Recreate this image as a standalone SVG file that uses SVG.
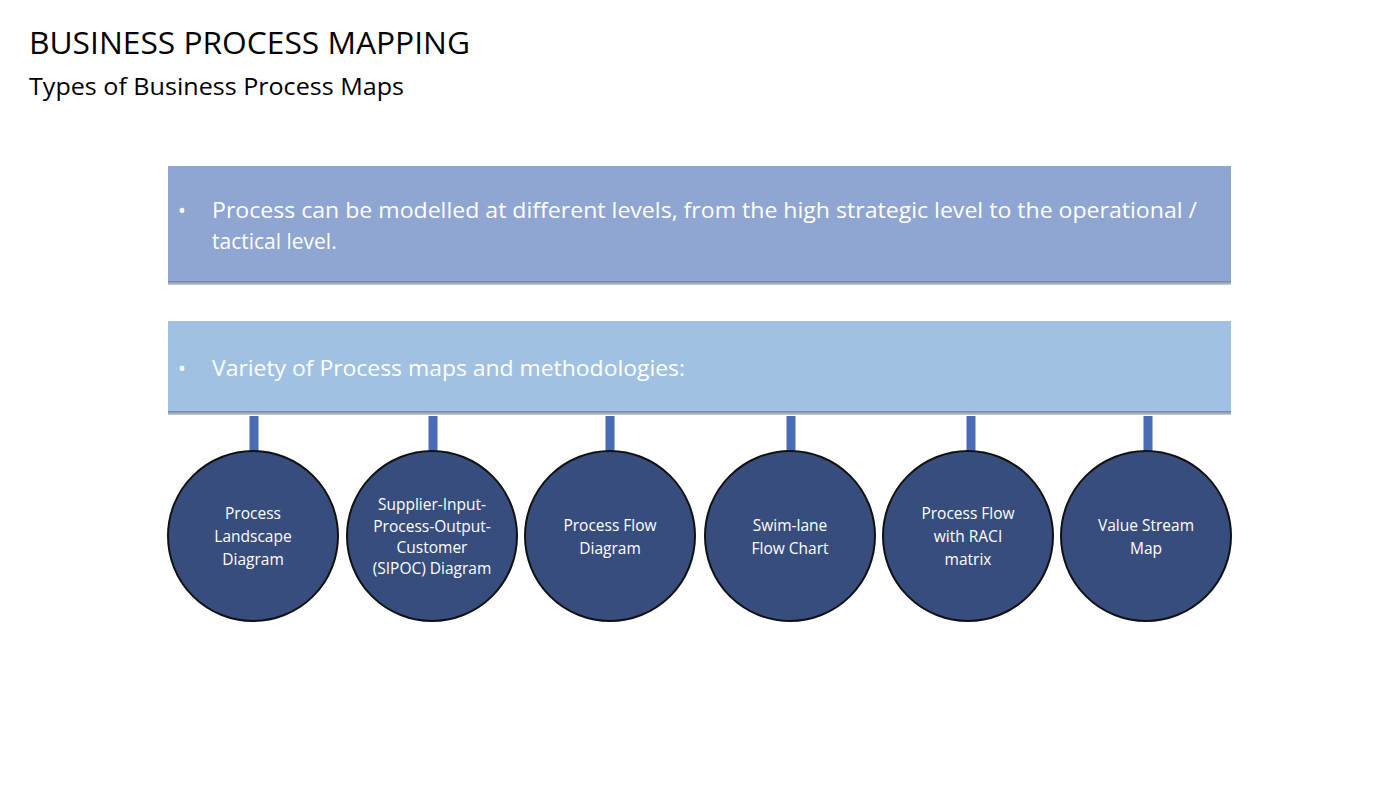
<svg xmlns="http://www.w3.org/2000/svg" width="1400" height="788" viewBox="0 0 1400 788">
<defs>
<linearGradient id="sh" x1="0" y1="0" x2="0" y2="1"><stop offset="0" stop-color="#5a6c90"/><stop offset="1" stop-color="#c8cfdc"/></linearGradient>
</defs>
<style>
text{font-family:"Open Sans","Noto Sans",sans-serif}
.c{fill:#374d7e;stroke:#111;stroke-width:2}
.ct{fill:#fff;font-size:15.5px;text-anchor:middle}
.bt{fill:#fff;font-size:21px}
.ln{stroke:#4a6bb5;stroke-width:9}
</style>
<rect width="1400" height="788" fill="#fff"/>
<text x="29" y="54" font-size="31" fill="#000" textLength="441" lengthAdjust="spacingAndGlyphs">BUSINESS PROCESS MAPPING</text>
<text x="29" y="95" font-size="23" fill="#000" textLength="375" lengthAdjust="spacingAndGlyphs">Types of Business Process Maps</text>
<g id="box1">
<rect x="168" y="280" width="1063" height="5" fill="url(#sh)"/>
<rect x="168" y="166" width="1063" height="115" fill="#8fa5d2"/>
<text class="bt" x="178" y="218">•</text>
<text class="bt" x="212" y="218" textLength="985" lengthAdjust="spacingAndGlyphs">Process can be modelled at different levels, from the high strategic level to the operational /</text>
<text class="bt" x="212" y="249">tactical level.</text>
</g>
<g id="box2">
<rect x="168" y="410" width="1063" height="5" fill="url(#sh)"/>
<rect x="168" y="321" width="1063" height="90" fill="#a1c1e2"/>
<text class="bt" x="178" y="376">•</text>
<text class="bt" x="212" y="376" textLength="473" lengthAdjust="spacingAndGlyphs">Variety of Process maps and methodologies:</text>
</g>
<g id="connectors">
<line class="ln" x1="254" y1="416" x2="254" y2="451"/>
<line class="ln" x1="433" y1="416" x2="433" y2="451"/>
<line class="ln" x1="610" y1="416" x2="610" y2="451"/>
<line class="ln" x1="791" y1="416" x2="791" y2="451"/>
<line class="ln" x1="971" y1="416" x2="971" y2="451"/>
<line class="ln" x1="1148" y1="416" x2="1148" y2="451"/>
</g>
<g id="n1"><circle class="c" cx="253" cy="536" r="85"/><text class="ct" x="253" y="519">Process</text><text class="ct" x="253" y="542">Landscape</text><text class="ct" x="253" y="565">Diagram</text></g>
<g id="n2"><circle class="c" cx="432" cy="536" r="85"/><text class="ct" x="432" y="510" font-size="14.5">Supplier-Input-</text><text class="ct" x="432" y="532" font-size="14.5">Process-Output-</text><text class="ct" x="432" y="553" font-size="14.5">Customer</text><text class="ct" x="432" y="574" font-size="14.5">(SIPOC) Diagram</text></g>
<g id="n3"><circle class="c" cx="610" cy="536" r="85"/><text class="ct" x="610" y="531">Process Flow</text><text class="ct" x="610" y="554">Diagram</text></g>
<g id="n4"><circle class="c" cx="790" cy="536" r="85"/><text class="ct" x="790" y="531">Swim-lane</text><text class="ct" x="790" y="554">Flow Chart</text></g>
<g id="n5"><circle class="c" cx="968" cy="536" r="85"/><text class="ct" x="968" y="519">Process Flow</text><text class="ct" x="968" y="542">with RACI</text><text class="ct" x="968" y="565">matrix</text></g>
<g id="n6"><circle class="c" cx="1146" cy="536" r="85"/><text class="ct" x="1146" y="531">Value Stream</text><text class="ct" x="1146" y="554">Map</text></g>
</svg>
